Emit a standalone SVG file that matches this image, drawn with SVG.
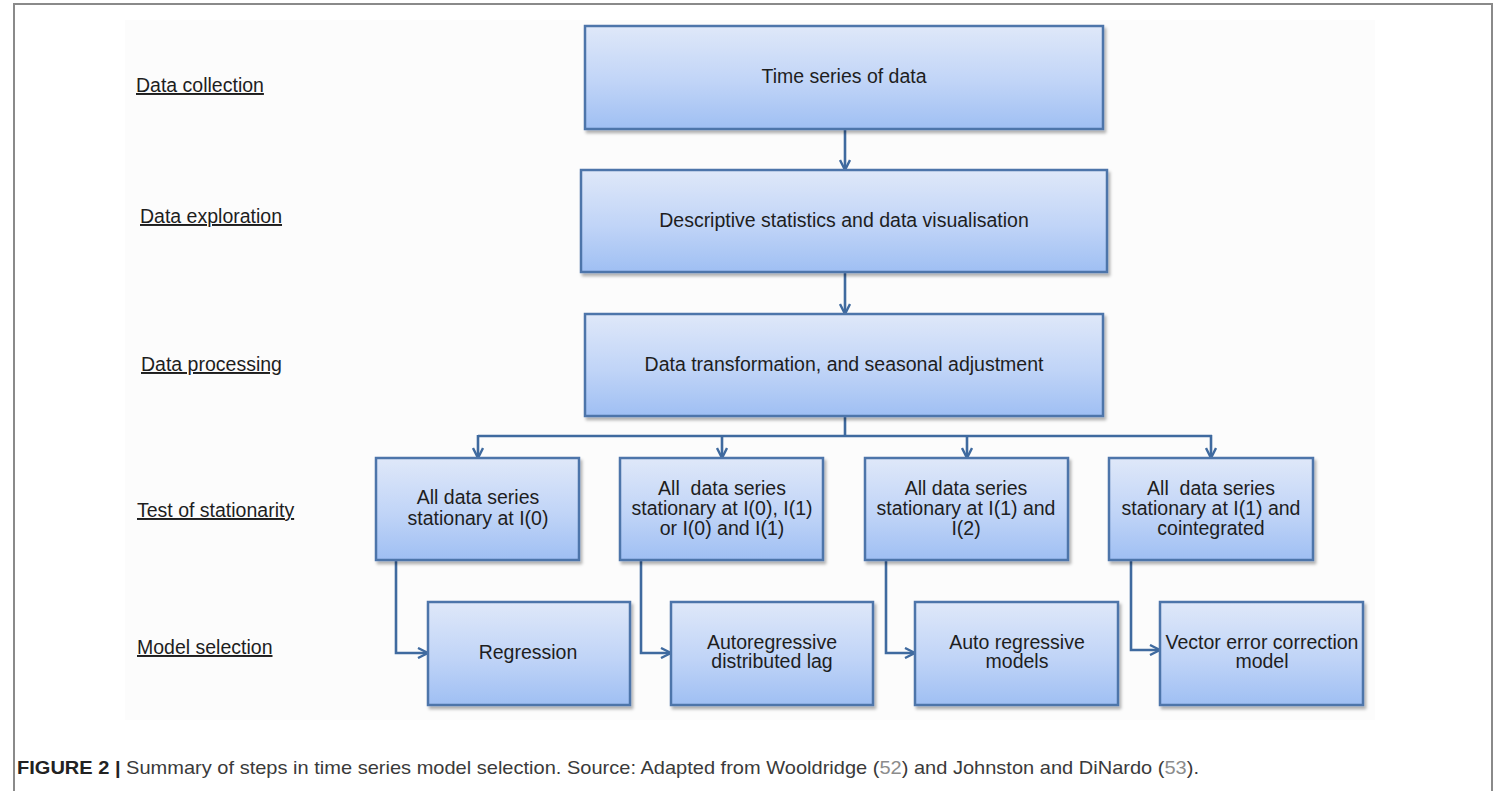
<svg xmlns="http://www.w3.org/2000/svg" width="1501" height="791" viewBox="0 0 1501 791">
  <style>
    .box { fill: url(#boxFill); stroke: #4d74aa; stroke-width: 2.5; filter: url(#shadow); }
    .txt { font-family: "Liberation Sans", Arial, sans-serif; font-size: 19.5px; fill: #1e1e1e; text-anchor: middle; }
    .stage { font-family: "Liberation Sans", Arial, sans-serif; font-size: 19.5px; fill: #1e1e1e; text-decoration: underline; }
    .conn { fill: none; stroke: #3f6a9f; stroke-width: 2.6; }
    .cap { font-family: "Liberation Sans", Arial, sans-serif; font-size: 19px; fill: #3a3a3a; }
  </style>
  <defs>
    <linearGradient id="boxFill" x1="0" y1="0" x2="0" y2="1">
      <stop offset="0" stop-color="#dfe8f9"/>
      <stop offset="0.55" stop-color="#c0d4f7"/>
      <stop offset="1" stop-color="#9fbff3"/>
    </linearGradient>
    <filter id="shadow" x="-5%" y="-5%" width="112%" height="115%">
      <feDropShadow dx="2" dy="3" stdDeviation="1.5" flood-color="#000" flood-opacity="0.3"/>
    </filter>
    <marker id="arrow" viewBox="0 0 12 12" refX="11" refY="6" markerWidth="12" markerHeight="12" markerUnits="userSpaceOnUse" orient="auto">
      <path d="M1,1 L11,6 L1,11" fill="none" stroke="#3f6a9f" stroke-width="2.4"/>
    </marker>
  </defs>

  <rect width="1501" height="791" fill="#ffffff"/>
  <!-- figure frame -->
  <path d="M14,800 L14,4 L1492,4 L1492,800" fill="none" stroke="#8a8a8a" stroke-width="2"/>
  <rect x="125" y="20" width="1250" height="700" fill="#fcfcfc"/>

  <!-- stage labels -->
  <g id="stage-labels">
    <text class="stage" x="136" y="92">Data collection</text>
    <text class="stage" x="140" y="223">Data exploration</text>
    <text class="stage" x="141" y="371">Data processing</text>
    <text class="stage" x="137" y="517">Test of stationarity</text>
    <text class="stage" x="137" y="654">Model selection</text>
  </g>

  <!-- connectors -->
  <g id="connectors">
    <path class="conn" d="M845,129 L845,170" marker-end="url(#arrow)"/>
    <path class="conn" d="M845,272 L845,314" marker-end="url(#arrow)"/>
    <path class="conn" d="M845,416 L845,436 M478,436 L1212,436"/>
    <path class="conn" d="M478,435 L478,458" marker-end="url(#arrow)"/>
    <path class="conn" d="M722,435 L722,458" marker-end="url(#arrow)"/>
    <path class="conn" d="M967,435 L967,458" marker-end="url(#arrow)"/>
    <path class="conn" d="M1211,435 L1211,458" marker-end="url(#arrow)"/>
    <path class="conn" d="M396,560 L396,653 L428,653" marker-end="url(#arrow)"/>
    <path class="conn" d="M641,560 L641,653 L671,653" marker-end="url(#arrow)"/>
    <path class="conn" d="M886,560 L886,653 L915,653" marker-end="url(#arrow)"/>
    <path class="conn" d="M1131,560 L1131,650 L1160,650" marker-end="url(#arrow)"/>
  </g>

  <g id="time-series">
    <rect class="box" x="585" y="26" width="518" height="103"/>
    <text class="txt" x="844" y="83">Time series of data</text>
  </g>
  <g id="exploration">
    <rect class="box" x="581" y="170" width="526" height="102"/>
    <text class="txt" x="844" y="227">Descriptive statistics and data visualisation</text>
  </g>
  <g id="processing">
    <rect class="box" x="585" y="314" width="518" height="102"/>
    <text class="txt" x="844" y="371">Data transformation, and seasonal adjustment</text>
  </g>

  <g id="test-i0">
    <rect class="box" x="376" y="458" width="203" height="102"/>
    <text class="txt" x="478" y="504">All data series</text>
    <text class="txt" x="478" y="525">stationary at I(0)</text>
  </g>
  <g id="test-i0-i1">
    <rect class="box" x="620" y="458" width="203" height="102"/>
    <text class="txt" x="722" y="495" xml:space="preserve">All  data series</text>
    <text class="txt" x="722" y="515">stationary at I(0), I(1)</text>
    <text class="txt" x="722" y="535">or I(0) and I(1)</text>
  </g>
  <g id="test-i1-i2">
    <rect class="box" x="865" y="458" width="203" height="102"/>
    <text class="txt" x="966" y="495">All data series</text>
    <text class="txt" x="966" y="515">stationary at I(1) and</text>
    <text class="txt" x="966" y="535">I(2)</text>
  </g>
  <g id="test-coint">
    <rect class="box" x="1109" y="458" width="204" height="102"/>
    <text class="txt" x="1211" y="495" xml:space="preserve">All  data series</text>
    <text class="txt" x="1211" y="515">stationary at I(1) and</text>
    <text class="txt" x="1211" y="535">cointegrated</text>
  </g>

  <g id="regression">
    <rect class="box" x="428" y="602" width="202" height="103"/>
    <text class="txt" x="528" y="659">Regression</text>
  </g>
  <g id="ardl">
    <rect class="box" x="671" y="602" width="202" height="103"/>
    <text class="txt" x="772" y="649">Autoregressive</text>
    <text class="txt" x="772" y="668">distributed lag</text>
  </g>
  <g id="ar-models">
    <rect class="box" x="915" y="602" width="203" height="103"/>
    <text class="txt" x="1017" y="649">Auto regressive</text>
    <text class="txt" x="1017" y="668">models</text>
  </g>
  <g id="vecm">
    <rect class="box" x="1160" y="602" width="203" height="103"/>
    <text class="txt" x="1262" y="649">Vector error correction</text>
    <text class="txt" x="1262" y="668">model</text>
  </g>

  <!-- caption -->
  <text class="cap" x="17" y="774" textLength="1182" lengthAdjust="spacingAndGlyphs"><tspan font-weight="bold" fill="#222">FIGURE 2 |</tspan> Summary of steps in time series model selection. Source: Adapted from Wooldridge (<tspan fill="#8c8c8c">52</tspan>) and Johnston and DiNardo (<tspan fill="#8c8c8c">53</tspan>).</text>
</svg>
